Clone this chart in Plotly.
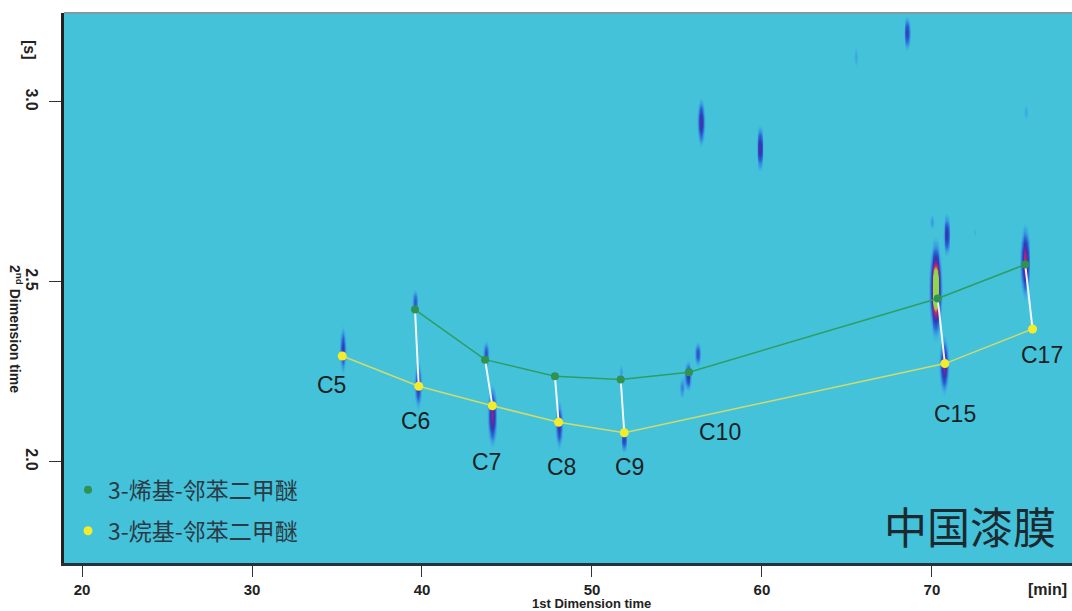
import numpy as np
import plotly.graph_objects as go

# ---------------- data ----------------
# 3-alkenyl veratroles (green series)
alkenyl_labels = ["C6", "C7", "C8", "C9", "C10", "C15", "C17"]
alkenyl_t1 = [39.59, 43.71, 47.82, 51.69, 55.71, 70.34, 75.49]
alkenyl_t2 = [2.423, 2.284, 2.238, 2.229, 2.249, 2.454, 2.548]

# 3-alkyl veratroles (yellow series)
alkyl_labels = ["C5", "C6", "C7", "C8", "C9", "C15", "C17"]
alkyl_t1 = [35.31, 39.81, 44.14, 48.04, 51.90, 70.76, 75.92]
alkyl_t2 = [2.294, 2.210, 2.156, 2.110, 2.081, 2.273, 2.369]

# carbon-number annotations
label_text = ["C5", "C6", "C7", "C8", "C9", "C10", "C15", "C17"]
label_t1 = [34.65, 39.59, 43.82, 48.18, 52.18, 57.53, 71.35, 76.47]
label_t2 = [2.214, 2.114, 2.000, 1.986, 1.986, 2.083, 2.133, 2.297]

# chromatographic peaks (blobs): centre, height, widths
peak_t1 = [35.35, 39.59, 39.76, 43.76, 44.12, 48.06, 51.71, 51.88, 55.65, 56.22,
           55.29, 56.41, 59.88, 68.53, 65.53, 70.21, 70.86, 70.71, 72.53, 75.47,
           75.53, 70.00]
peak_t2 = [2.311, 2.444, 2.214, 2.300, 2.128, 2.103, 2.250, 2.061, 2.239, 2.300,
           2.206, 2.944, 2.872, 3.192, 3.125, 2.480, 2.631, 2.269, 2.639, 2.556,
           2.972, 2.667]
peak_h = [0.50, 0.35, 0.55, 0.40, 0.70, 0.55, 0.20, 0.45, 0.50, 0.38,
          0.25, 0.60, 0.55, 0.45, 0.15, 1.45, 0.50, 0.72, 0.12, 0.78,
          0.15, 0.20]
peak_w1 = [0.11, 0.10, 0.12, 0.11, 0.14, 0.12, 0.10, 0.11, 0.12, 0.10,
           0.10, 0.12, 0.12, 0.11, 0.09, 0.17, 0.12, 0.14, 0.08, 0.15,
           0.09, 0.10]
peak_w2 = [0.035, 0.021, 0.035, 0.022, 0.043, 0.035, 0.013, 0.018, 0.022, 0.020,
           0.018, 0.035, 0.033, 0.026, 0.024, 0.060, 0.031, 0.040, 0.010, 0.050,
           0.017, 0.014]

x_ticks = [20, 30, 40, 50, 60, 70]
y_ticks = [2.0, 2.5, 3.0]
x_range = [18.94, 78.24]
y_range = [1.719, 3.247]

legend_names = ["3-烯基-邻苯二甲醚", "3-烷基-邻苯二甲醚"]
stamp_text = "中国漆膜"

# ---------------- colours / fonts ----------------
BG = "#43C2DA"
GREEN_LINE = "#2E9E62"
GREEN_MK = "#2E9350"
YELLOW_LINE = "#CFDB6E"
YELLOW_MK = "#F2EC2A"
SANS = "Liberation Sans, Arial, sans-serif"
CJK = "Noto Sans CJK SC, Noto Sans, sans-serif"
AX = "#222"

# ---------------- chromatogram image ----------------
gx = np.arange(x_range[0], x_range[1] + 0.05, 0.05)
gy = np.arange(y_range[0], y_range[1] + 0.006, 0.006)
X, Y = np.meshgrid(gx, gy)
Z = np.zeros_like(X)
for t1, t2, h, w1, w2 in zip(peak_t1, peak_t2, peak_h, peak_w1, peak_w2):
    Z += h * np.exp(-0.5 * ((X - t1) / w1) ** 2 - 0.5 * ((Y - t2) / w2) ** 2)
Z = np.clip(Z, 0, 1)
Z = np.round(Z, 3)
Z[Z < 0.01] = 0

colorscale = [
    [0.00, BG],
    [0.07, BG],
    [0.18, "#3A9EE2"],
    [0.32, "#2B62D2"],
    [0.48, "#2F3AB2"],
    [0.60, "#6428A6"],
    [0.72, "#9A2880"],
    [0.82, "#C23A58"],
    [0.91, "#B8B040"],
    [1.00, "#8ED84A"],
]

fig = go.Figure()
fig.add_trace(go.Heatmap(
    x=gx.round(3).tolist(), y=gy.round(4).tolist(), z=Z.tolist(),
    colorscale=colorscale, zmin=0, zmax=1, zsmooth="best",
    showscale=False, hoverinfo="skip",
))

# white connectors between alkenyl and alkyl homologues of same chain length
cx, cy = [], []
for lab, t1, t2 in zip(alkenyl_labels, alkenyl_t1, alkenyl_t2):
    if lab in alkyl_labels:
        i = alkyl_labels.index(lab)
        cx += [t1, alkyl_t1[i], None]
        cy += [t2, alkyl_t2[i], None]
fig.add_trace(go.Scatter(x=cx, y=cy, mode="lines",
                         line=dict(color="rgba(255,255,255,0.92)", width=2),
                         showlegend=False, hoverinfo="skip"))

fig.add_trace(go.Scatter(x=alkenyl_t1, y=alkenyl_t2, mode="lines+markers",
                         line=dict(color=GREEN_LINE, width=1.5),
                         marker=dict(color=GREEN_MK, size=8),
                         text=alkenyl_labels, showlegend=False))
fig.add_trace(go.Scatter(x=alkyl_t1, y=alkyl_t2, mode="lines+markers",
                         line=dict(color=YELLOW_LINE, width=1.5),
                         marker=dict(color=YELLOW_MK, size=9),
                         text=alkyl_labels, showlegend=False))

# legend-only entries (dots)
fig.add_trace(go.Scatter(x=[None], y=[None], mode="markers", name=legend_names[0],
                         marker=dict(color=GREEN_MK, size=8), legendgroup="a"))
fig.add_trace(go.Scatter(x=[None], y=[None], mode="markers", name=legend_names[1],
                         marker=dict(color=YELLOW_MK, size=9), legendgroup="b"))

annotations = []
for txt, t1, t2 in zip(label_text, label_t1, label_t2):
    annotations.append(dict(x=t1, y=t2, xref="x", yref="y", text=txt, showarrow=False,
                            xanchor="center", yanchor="middle",
                            font=dict(family=SANS, size=23, color="#1a1f22")))

annotations += [
    dict(x=0.899, y=0.069, xref="paper", yref="paper", text=stamp_text, showarrow=False,
         xanchor="center", yanchor="middle",
         font=dict(family=CJK, size=43, color="#1c2930")),
    dict(x=76.8, y=-0.048, xref="x", yref="paper", text="[min]", showarrow=False,
         xanchor="center", yanchor="middle",
         font=dict(family=SANS, size=16, color=AX, weight="bold")),
    dict(x=0.523, y=-0.0735, xref="paper", yref="paper", text="1st Dimension time",
         showarrow=False, xanchor="center", yanchor="middle",
         font=dict(family=SANS, size=13, color=AX, weight="bold")),
    dict(x=-0.0337, y=3.144, xref="paper", yref="y", text="[s]", showarrow=False, textangle=90,
         xanchor="center", yanchor="middle",
         font=dict(family=SANS, size=16, color=AX, weight="bold")),
    dict(x=-0.0470, y=2.37, xref="paper", yref="y", text="2<sup>nd</sup> Dimension time",
         showarrow=False, textangle=90, xanchor="center", yanchor="middle",
         font=dict(family=SANS, size=14, color=AX, weight="bold")),
]

fig.update_layout(
    width=1072, height=611,
    margin=dict(l=64, r=0, t=13, b=48),
    paper_bgcolor="white", plot_bgcolor=BG,
    annotations=annotations,
    showlegend=True,
    legend=dict(x=0.004, y=0.172, xanchor="left", yanchor="top",
                bgcolor="rgba(0,0,0,0)", tracegroupgap=8,
                font=dict(family=CJK, size=23, color="#2b3a44")),
    shapes=[dict(type="line", xref="paper", yref="paper", x0=0, x1=1, y0=1, y1=1,
                 line=dict(color="#7f9ca3", width=2))],
)
fig.update_xaxes(range=x_range, tickvals=x_ticks, ticktext=[str(v) for v in x_ticks],
                 showgrid=False, zeroline=False, showline=True, linecolor="#23333a", linewidth=3,
                 ticks="outside", ticklen=11, tickwidth=1, tickcolor="#333",
                 ticklabelstandoff=0,
                 tickfont=dict(family=SANS, size=15, color=AX, weight="bold"))
fig.update_yaxes(range=y_range, tickvals=y_ticks, ticktext=[f"{v:.1f}" for v in y_ticks],
                 showgrid=False, zeroline=False, showline=True, linecolor=AX, linewidth=3,
                 ticks="outside", ticklen=12, tickwidth=1, tickcolor="#333",
                 tickangle=90, ticklabelstandoff=4,
                 tickfont=dict(family=SANS, size=16, color=AX, weight="bold"))

fig.write_html("out.html")
